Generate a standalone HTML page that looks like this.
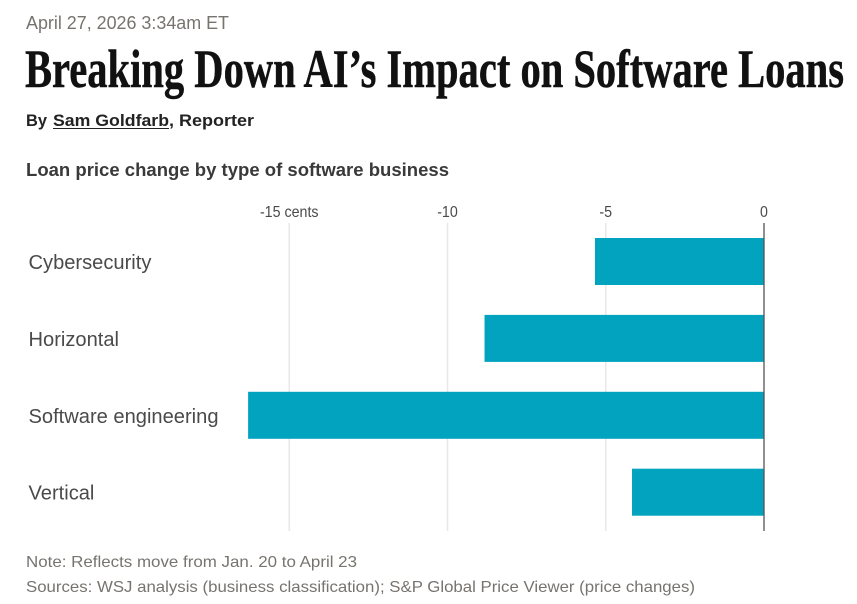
<!DOCTYPE html>
<html lang="en">
<head>
<meta charset="utf-8">
<title>Breaking Down AI's Impact on Software Loans</title>
<style>
  html, body { margin: 0; padding: 0; background: #fff; width: 857px; height: 604px; overflow: hidden; }
  svg { display: block; }
  text { font-family: "Liberation Sans", sans-serif; }
  .title { font-family: "Liberation Serif", serif; font-weight: 700; font-size: 54px; fill: #111; stroke: #111; stroke-width: 0.5px; }
</style>
</head>
<body>
<svg id="chart" xmlns="http://www.w3.org/2000/svg" width="857" height="604" viewBox="0 0 857 604">
  <text x="26" y="29" font-size="18.5" fill="#77736f" textLength="203" lengthAdjust="spacingAndGlyphs">April 27, 2026 3:34am ET</text>
  <text class="title" x="25" y="87" textLength="819" lengthAdjust="spacingAndGlyphs">Breaking Down AI’s Impact on Software Loans</text>
  <text x="26" y="126" font-size="16.5" font-weight="700" fill="#222" textLength="21" lengthAdjust="spacingAndGlyphs">By</text>
  <text x="53" y="126" font-size="16.5" font-weight="700" fill="#222" textLength="116" lengthAdjust="spacingAndGlyphs">Sam Goldfarb</text>
  <rect x="53" y="128" width="116" height="1" fill="#222"></rect>
  <text x="169" y="126" font-size="16.5" font-weight="700" fill="#222" textLength="85" lengthAdjust="spacingAndGlyphs">, Reporter</text>
  <text x="26" y="176" font-size="18" font-weight="700" fill="#3a3a3a" textLength="423" lengthAdjust="spacingAndGlyphs">Loan price change by type of software business</text>
  <g id="grid"></g>
  <g id="ticks"></g>
  <g id="bars"></g>
  <g id="labels"></g>
  <line x1="764" x2="764" y1="223" y2="531" stroke="#555" stroke-width="1.3"></line>
  <text x="26" y="567" font-size="16" fill="#77736f" textLength="331" lengthAdjust="spacingAndGlyphs">Note: Reflects move from Jan. 20 to April 23</text>
  <text x="26" y="592" font-size="16" fill="#77736f" textLength="669" lengthAdjust="spacingAndGlyphs">Sources: WSJ analysis (business classification); S&amp;P Global Price Viewer (price changes)</text>
</svg>
<script>
const categories = ["Cybersecurity", "Horizontal", "Software engineering", "Vertical"];
const priceChange = [-5.34, -8.83, -16.3, -4.17];
const tickValues = [-15, -10, -5, 0];
const tickLabels = ["-15 cents", "-10", "-5", "0"];

const NS = "http://www.w3.org/2000/svg";
function xScale(v) { return 764 + v * 31.65; }
function bandTop(i) { return 238 + i * 76.9; }
const BAND_HEIGHT = 47;

function make(tag, attrs, parent, text) {
  const el = document.createElementNS(NS, tag);
  for (const k in attrs) el.setAttribute(k, attrs[k]);
  if (text !== undefined) el.textContent = text;
  parent.appendChild(el);
  return el;
}

const gridGroup = document.getElementById("grid");
const tickGroup = document.getElementById("ticks");
const barGroup = document.getElementById("bars");
const labelGroup = document.getElementById("labels");

tickValues.forEach(function (v, i) {
  const x = xScale(v);
  if (v !== 0) {
    const line = make("line", { x1: x, x2: x, y1: 223, y2: 531, stroke: "#e9e9e9", "stroke-width": 1.6 }, gridGroup);
    
    
  }
  const t = make("text", { x: x, y: 217, "font-size": 16, fill: "#4a4a4a", "text-anchor": "middle" }, tickGroup, tickLabels[i]);
  
  
  t.setAttribute("textLength", (t.getComputedTextLength() * 0.89).toFixed(1));
  t.setAttribute("lengthAdjust", "spacingAndGlyphs");
});

priceChange.forEach(function (v, i) {
  const x0 = xScale(Math.min(v, 0));
  const x1 = xScale(Math.max(v, 0));
  const bar = make("rect", { x: x0, y: bandTop(i), width: x1 - x0, height: BAND_HEIGHT, fill: "#02a3bf" }, barGroup);
  
  
});

categories.forEach(function (c, i) {
  const t = make("text", { x: 28.5, y: bandTop(i) + 31, "font-size": 20, fill: "#4a4a4a" }, labelGroup, c);
  
  
  t.setAttribute("textLength", (t.getComputedTextLength() * 1.005).toFixed(1));
  t.setAttribute("lengthAdjust", "spacingAndGlyphs");
});
</script>
</body>
</html>
